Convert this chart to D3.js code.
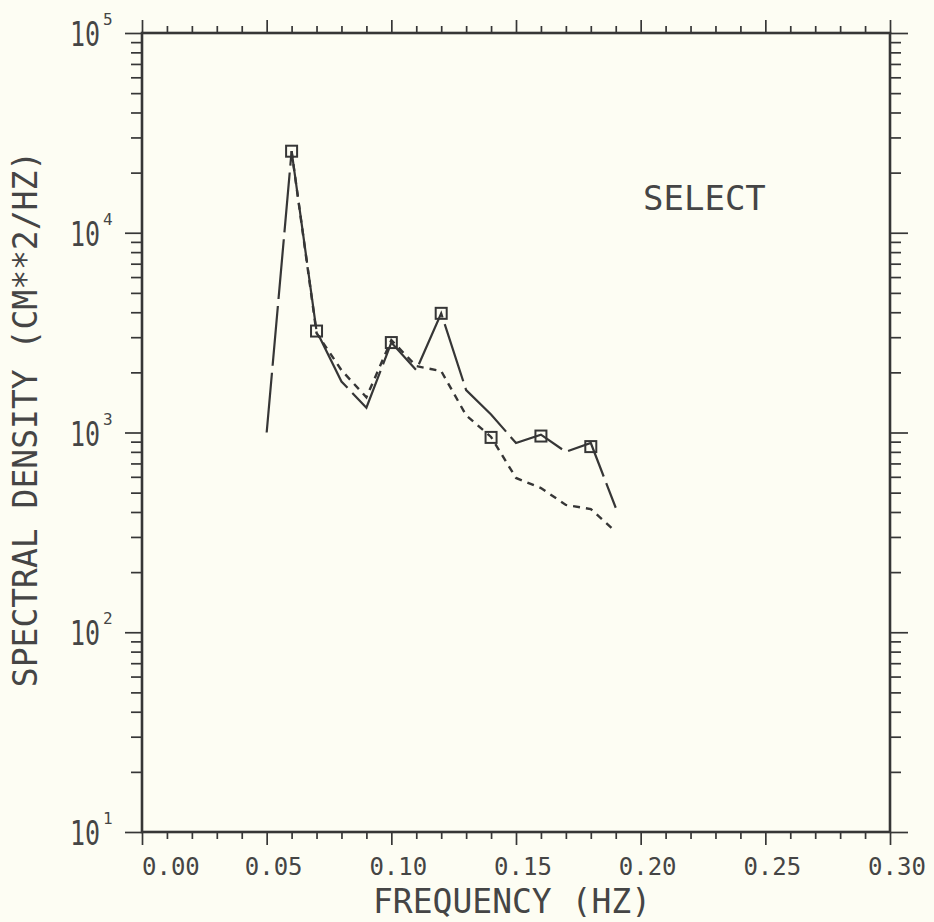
<!DOCTYPE html>
<html>
<head>
<meta charset="utf-8">
<script src="https://cdn.jsdelivr.net/npm/d3@7"></script>
<style>
  html, body { margin: 0; padding: 0; background: #fdfdf3; }
  svg { display: block; }
  text { font-family: "DejaVu Sans Mono", monospace; fill: #454545; }
</style>
</head>
<body>
<svg id="chart" width="934" height="922"></svg>
<script>
// ---- data ----
const freqs = [0.05, 0.06, 0.07, 0.08, 0.09, 0.10, 0.11, 0.12, 0.13, 0.14, 0.15, 0.16, 0.17, 0.18, 0.19];
const longDashSeries = [1000, 25600, 3220, 1800, 1330, 2820, 2050, 3950, 1630, 1230, 886, 975, 800, 886, 420];
const shortDashSeries = [null, 25600, 3150, 2050, 1500, 2900, 2150, 2030, 1220, 950, 592, 527, 434, 414, 318];
const selectFreqs = [0.06, 0.07, 0.10, 0.12, 0.14, 0.16, 0.18];
const selectValues = [25600, 3220, 2820, 3950, 945, 960, 850];
const xTickValues = [0.00, 0.05, 0.10, 0.15, 0.20, 0.25, 0.30];
const xTickLabels = ["0.00", "0.05", "0.10", "0.15", "0.20", "0.25", "0.30"];
const yDecades = [10, 100, 1000, 10000, 100000];
const yExponents = ["1", "2", "3", "4", "5"];
const xTitle = "FREQUENCY (HZ)";
const yTitle = "SPECTRAL DENSITY (CM**2/HZ)";
const annotation = "SELECT";

(function () {
// ---- layout ----
const pLeft = 142, pRight = 890, pTop = 33, pBottom = 832;
const ink = "#363636";

const svg = d3.select("#chart");
svg.append("rect").attr("width", 934).attr("height", 922).attr("fill", "#fdfdf3");

const x = d3.scaleLinear().domain([0, 0.30]).range([pLeft, pRight]);
const y = d3.scaleLog().domain([10, 1e5]).range([pBottom, pTop]);

const xMinor = d3.range(0, 31).map(i => i / 100).filter((v, i) => i % 5 !== 0);
const yMinor = [];
yDecades.slice(0, -1).forEach(d => { for (let k = 2; k <= 9; k++) yMinor.push(d * k); });

function styleAxis(g) {
  g.select(".domain").remove();
  g.selectAll(".tick line").attr("stroke", ink).attr("stroke-width", 1.7);
  g.selectAll(".tick text").remove();
}

// bottom
svg.append("g").attr("transform", `translate(0,${pBottom})`)
  .call(d3.axisBottom(x).tickValues(xTickValues).tickSize(13).tickFormat("")).call(styleAxis);
svg.append("g").attr("transform", `translate(0,${pBottom})`)
  .call(d3.axisBottom(x).tickValues(xMinor).tickSize(7).tickFormat("")).call(styleAxis);
// top
svg.append("g").attr("transform", `translate(0,${pTop})`)
  .call(d3.axisTop(x).tickValues(xTickValues).tickSize(13).tickFormat("")).call(styleAxis);
svg.append("g").attr("transform", `translate(0,${pTop})`)
  .call(d3.axisTop(x).tickValues(xMinor).tickSize(7).tickFormat("")).call(styleAxis);
// left
svg.append("g").attr("transform", `translate(${pLeft},0)`)
  .call(d3.axisLeft(y).tickValues(yDecades).tickSize(17).tickFormat("")).call(styleAxis);
svg.append("g").attr("transform", `translate(${pLeft},0)`)
  .call(d3.axisLeft(y).tickValues(yMinor).tickSize(11).tickFormat("")).call(styleAxis);
// right
svg.append("g").attr("transform", `translate(${pRight},0)`)
  .call(d3.axisRight(y).tickValues(yDecades).tickSize(18).tickFormat("")).call(styleAxis);
svg.append("g").attr("transform", `translate(${pRight},0)`)
  .call(d3.axisRight(y).tickValues(yMinor).tickSize(11).tickFormat("")).call(styleAxis);

// frame
svg.append("rect")
  .attr("x", pLeft).attr("y", pTop)
  .attr("width", pRight - pLeft).attr("height", pBottom - pTop)
  .attr("fill", "none").attr("stroke", ink).attr("stroke-width", 2.6);

// x tick labels
svg.append("g").selectAll("text").data(xTickValues).join("text")
  .attr("x", (d, i) => i === 0 ? x(d) : x(d) + 7)
  .attr("y", 875)
  .attr("text-anchor", (d, i) => i === 0 ? "start" : "middle")
  .attr("font-size", 24)
  .text((d, i) => xTickLabels[i]);

// y tick labels: 10 with superscript exponent
const yl = svg.append("g").selectAll("g").data(yDecades).join("g")
  .attr("transform", d => `translate(100,${y(d)})`);
yl.append("text")
  .attr("text-anchor", "end")
  .attr("font-size", 25)
  .attr("transform", "translate(0,13) scale(1,1.38)")
  .text("10");
yl.append("text")
  .attr("x", 3).attr("y", -8)
  .attr("font-size", 16)
  .text((d, i) => yExponents[i]);

// titles
svg.append("text")
  .attr("x", 512).attr("y", 913)
  .attr("text-anchor", "middle")
  .attr("font-size", 33)
  .text(xTitle);
svg.append("text")
  .attr("transform", "translate(37,419) rotate(-90)")
  .attr("text-anchor", "middle")
  .attr("font-size", 33)
  .text(yTitle);
svg.append("text")
  .attr("x", 643).attr("y", 210)
  .attr("font-size", 34)
  .text(annotation);

// lines
const line = d3.line()
  .defined(d => d.v != null)
  .x(d => x(d.f))
  .y(d => y(d.v));

const longData = freqs.map((f, i) => ({ f, v: longDashSeries[i] }));
const shortData = freqs.map((f, i) => ({ f, v: shortDashSeries[i] }));

svg.append("path").datum(shortData)
  .attr("d", line)
  .attr("fill", "none").attr("stroke", ink).attr("stroke-width", 2.4)
  .attr("stroke-dasharray", "7,6");

svg.append("path").datum(longData)
  .attr("d", line)
  .attr("fill", "none").attr("stroke", ink).attr("stroke-width", 2.2)
  .attr("stroke-dasharray", "60,7");

// select markers
svg.append("g").selectAll("rect").data(selectFreqs.map((f, i) => ({ f, v: selectValues[i] })))
  .join("rect")
  .attr("x", d => x(d.f) - 5.5).attr("y", d => y(d.v) - 5.5)
  .attr("width", 11).attr("height", 11)
  .attr("fill", "none").attr("stroke", ink).attr("stroke-width", 2);
})();
</script>
</body>
</html>
